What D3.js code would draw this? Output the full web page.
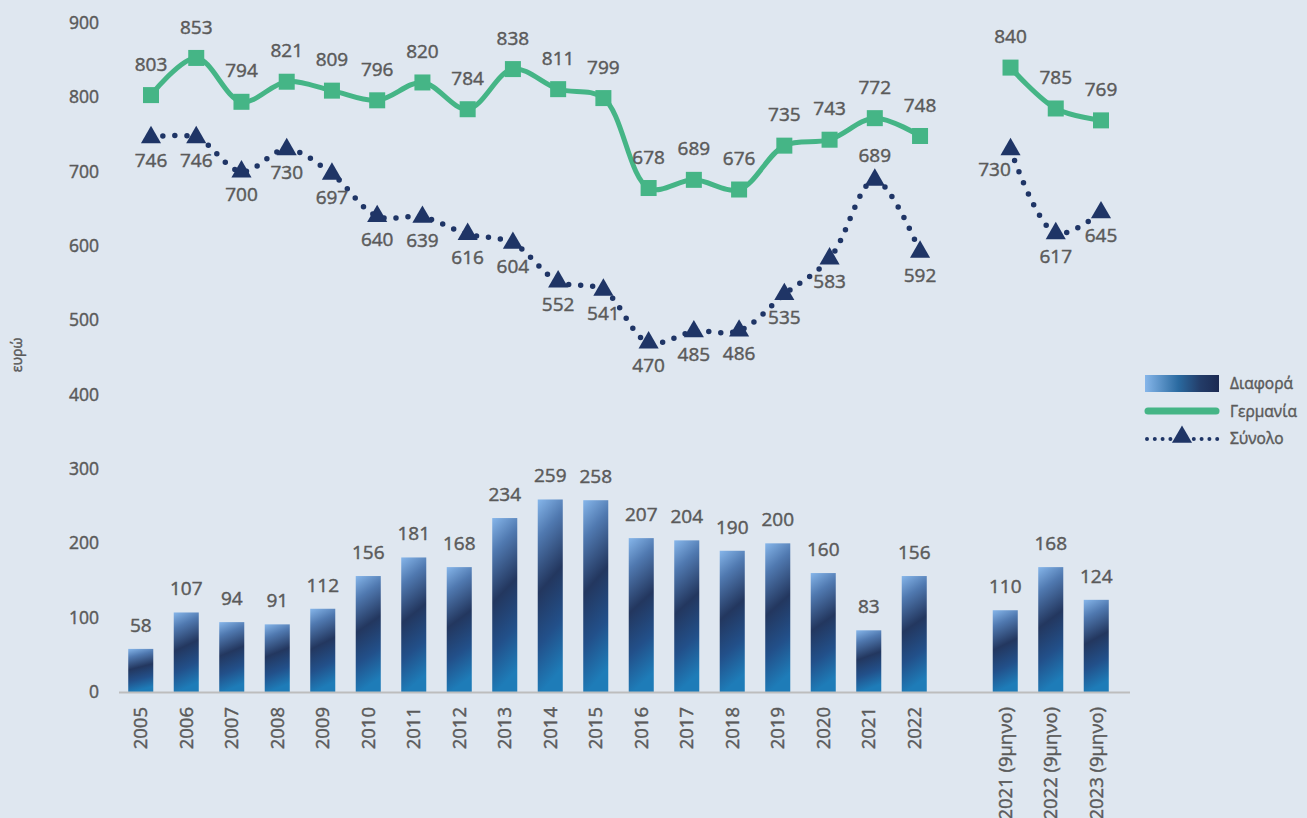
<!DOCTYPE html>
<html>
<head>
<meta charset="utf-8">
<script src="https://cdn.jsdelivr.net/npm/d3@7"></script>
<style>
  body { margin: 0; background: #dfe7f0; }
  text { font-family: "Open Sans", sans-serif; stroke: #5a5a5a; stroke-width: 0.45px; }
</style>
</head>
<body>
<script>
// data
const years = ["2005", "2006", "2007", "2008", "2009", "2010", "2011", "2012", "2013",
  "2014", "2015", "2016", "2017", "2018", "2019", "2020", "2021", "2022"];
const nineMonths = ["2021 (9μηνο)", "2022 (9μηνο)", "2023 (9μηνο)"];
const germany = [803, 853, 794, 821, 809, 796, 820, 784, 838, 811, 799, 678, 689, 676, 735, 743, 772, 748,
  840, 785, 769];
const total = [746, 746, 700, 730, 697, 640, 639, 616, 604, 552, 541, 470, 485, 486, 535, 583, 689, 592,
  730, 617, 645];
const diff = [58, 107, 94, 91, 112, 156, 181, 168, 234, 259, 258, 207, 204, 190, 200, 160, 83, 156,
  110, 168, 124];
const yTicks = [0, 100, 200, 300, 400, 500, 600, 700, 800, 900];

const W = 1307, H = 818;
const cats = [...years, ...nineMonths];
const slots = [...years, "gap", ...nineMonths]; // empty slot between the two groups

const rows = cats.map((c, i) => ({ cat: c, de: germany[i], tot: total[i], diff: diff[i], i }));

const svg = d3.select("body").append("svg").attr("width", W).attr("height", H);

const y = d3.scaleLinear().domain([0, 900]).range([692, 23]);
const xBar = d3.scaleBand().domain(slots).range([118, 1119]).paddingInner(0.45).paddingOuter(0.225);
const xLine = d3.scalePoint().domain(slots).range([151, 1101]);

const txt = "#5a5a5a";

const defs = svg.append("defs");
const g1 = defs.append("linearGradient").attr("id", "barGrad")
  .attr("x1", 0).attr("y1", 0).attr("x2", 0.15).attr("y2", 1);
[[0, "#86b6ea"], [0.2, "#5079b0"], [0.48, "#23375f"], [0.75, "#22508a"], [1, "#1e7cb8"]]
  .forEach(s => g1.append("stop").attr("offset", s[0]).attr("stop-color", s[1]));
const g2 = defs.append("linearGradient").attr("id", "legGrad")
  .attr("x1", 0).attr("y1", 0).attr("x2", 1).attr("y2", 0);
[[0, "#86b6ea"], [0.45, "#2a6aa0"], [0.75, "#233c68"], [1, "#1c2a52"]]
  .forEach(s => g2.append("stop").attr("offset", s[0]).attr("stop-color", s[1]));

// y axis labels
svg.append("g").selectAll("text").data(yTicks).join("text")
  .attr("x", 99).attr("y", d => y(d)).attr("dy", "0.35em")
  .attr("text-anchor", "end").attr("font-size", 17.5)
  .attr("fill", txt).text(d => d);

svg.append("text")
  .attr("transform", "translate(17,355) rotate(-90)")
  .attr("text-anchor", "middle").attr("dy", "0.35em")
  .attr("font-size", 14).attr("fill", txt)
  .text("ευρώ");

// bars
svg.append("g").selectAll("rect").data(rows).join("rect")
  .attr("x", d => xBar(d.cat)).attr("width", xBar.bandwidth())
  .attr("y", d => y(d.diff)).attr("height", d => y(0) - y(d.diff))
  .attr("fill", "url(#barGrad)");

svg.append("g").selectAll("text").data(rows).join("text")
  .attr("x", d => xBar(d.cat) + xBar.bandwidth() / 2).attr("y", d => y(d.diff) - 17)
  .attr("text-anchor", "middle").attr("font-size", 19)
  .attr("fill", txt).text(d => d.diff);

// baseline
svg.append("line").attr("x1", 119).attr("x2", 1130).attr("y1", y(0) + 0.5).attr("y2", y(0) + 0.5)
  .attr("stroke", "#bdbdbd").attr("stroke-width", 2);

// x labels (the 9-month ones run off the bottom edge, as in the original)
svg.append("g").selectAll("text").data(rows).join("text")
  .attr("transform", d => `translate(${xBar(d.cat) + xBar.bandwidth() / 2},707) rotate(-90)`)
  .attr("text-anchor", "end").attr("dy", "0.35em")
  .attr("font-size", 18.5).attr("fill", txt)
  .text(d => d.cat);

// lines, two segments each (annual and 9-month)
const segs = [rows.slice(0, years.length), rows.slice(years.length)];
const lineDe = d3.line().x(d => xLine(d.cat)).y(d => y(d.de)).curve(d3.curveCatmullRom);
const lineTot = d3.line().x(d => xLine(d.cat)).y(d => y(d.tot)).curve(d3.curveCatmullRom);

segs.forEach(s => {
  svg.append("path").attr("d", lineTot(s)).attr("fill", "none")
    .attr("stroke", "#1f3566").attr("stroke-width", 5.5)
    .attr("stroke-linecap", "round").attr("stroke-dasharray", "0 12");
  svg.append("path").attr("d", lineDe(s)).attr("fill", "none")
    .attr("stroke", "#45b586").attr("stroke-width", 5);
});

const tri = d3.symbol().type(d3.symbolTriangle).size(175);
svg.append("g").selectAll("path").data(rows).join("path")
  .attr("transform", d => `translate(${xLine(d.cat)},${y(d.tot)})`)
  .attr("d", tri).attr("fill", "#1f3566");

svg.append("g").selectAll("rect").data(rows).join("rect")
  .attr("x", d => xLine(d.cat) - 8).attr("y", d => y(d.de) - 8)
  .attr("width", 16).attr("height", 16).attr("fill", "#45b586");

// point labels
svg.append("g").selectAll("text").data(rows).join("text")
  .attr("x", d => xLine(d.cat)).attr("y", d => y(d.de) - 31)
  .attr("dy", "0.35em").attr("text-anchor", "middle")
  .attr("font-size", 19).attr("fill", txt)
  .text(d => d.de);

function totPos(d) {
  if (d.cat === "2021") return [0, -24];
  if (d.cat === "2021 (9μηνο)") return [-16, 20];
  return [0, 23];
}
svg.append("g").selectAll("text").data(rows).join("text")
  .attr("x", d => xLine(d.cat) + totPos(d)[0]).attr("y", d => y(d.tot) + totPos(d)[1])
  .attr("dy", "0.35em").attr("text-anchor", "middle")
  .attr("font-size", 19).attr("fill", txt)
  .text(d => d.tot);

// legend
const lg = svg.append("g");
lg.append("rect").attr("x", 1145).attr("y", 375).attr("width", 74).attr("height", 17)
  .attr("fill", "url(#legGrad)");
lg.append("line").attr("x1", 1148).attr("x2", 1216).attr("y1", 411).attr("y2", 411)
  .attr("stroke", "#45b586").attr("stroke-width", 7).attr("stroke-linecap", "round");
lg.append("line").attr("x1", 1147).attr("x2", 1218).attr("y1", 439).attr("y2", 439)
  .attr("stroke", "#1f3566").attr("stroke-width", 4)
  .attr("stroke-linecap", "round").attr("stroke-dasharray", "0 7.8");
lg.append("path").attr("transform", "translate(1182,437)").attr("d", tri).attr("fill", "#1f3566");
lg.selectAll("text.leg").data(["Διαφορά", "Γερμανία", "Σύνολο"]).join("text")
  .attr("x", 1230).attr("y", (d, i) => 384 + i * 27.5).attr("dy", "0.35em")
  .attr("font-size", 15.5).attr("fill", txt)
  .text(d => d);
</script>
</body>
</html>
